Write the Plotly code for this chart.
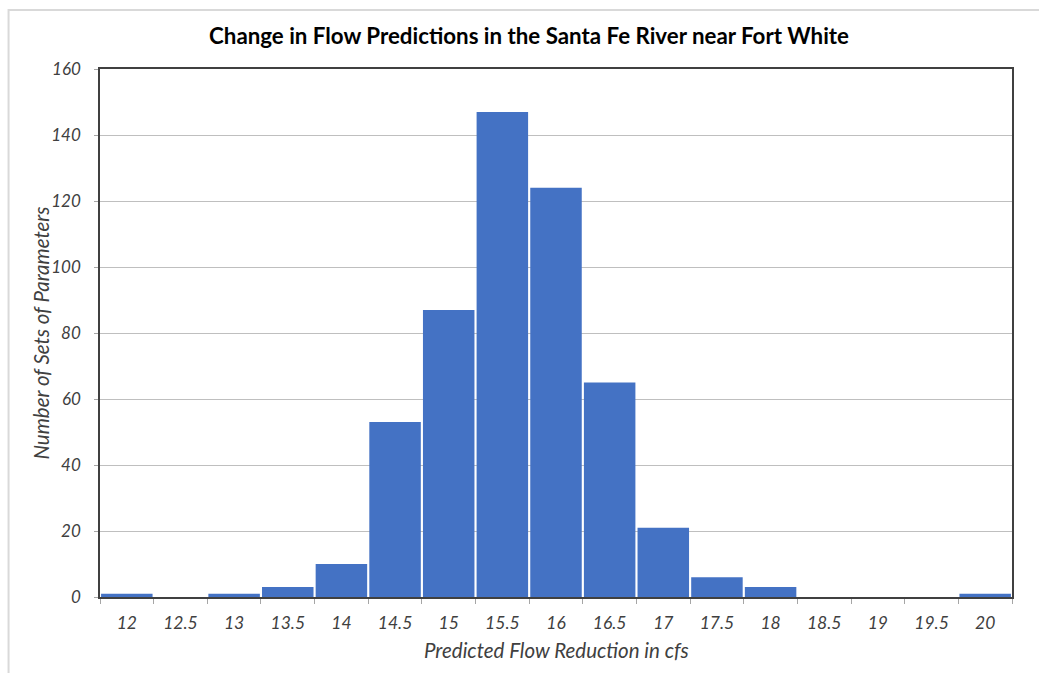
import plotly.graph_objects as go

# Histogram of predicted flow reductions (cfs) and the count of parameter sets in each bin
flow_bins = ["12", "12.5", "13", "13.5", "14", "14.5", "15", "15.5", "16",
             "16.5", "17", "17.5", "18", "18.5", "19", "19.5", "20"]
set_counts = [1, 0, 1, 3, 10, 53, 87, 147, 124, 65, 21, 6, 3, 0, 0, 0, 1]
y_ticks = [0, 20, 40, 60, 80, 100, 120, 140, 160]

W, H = 1039, 673
L, R, T, B = 99.5, 27, 69, 76
pw, ph = W - L - R, H - T - B

fig = go.Figure(
    go.Bar(
        x=flow_bins,
        y=set_counts,
        marker=dict(color="#4472C4", line=dict(width=0)),
        hoverinfo="x+y",
    )
)

font_family = "Lato, Carlito, Calibri, 'Open Sans', sans-serif"
label_color = "#404040"
title_font = dict(size=20.5, style="italic", color=label_color, family=font_family)

fig.update_layout(
    width=W,
    height=H,
    margin=dict(l=L, r=R, t=T, b=B),
    paper_bgcolor="white",
    plot_bgcolor="white",
    bargap=0.04,
    showlegend=False,
    font=dict(family=font_family, color=label_color),
    title=dict(
        text="<b>Change in Flow Predictions in the Santa Fe River near Fort White</b>",
        x=529 / W,
        xanchor="center",
        y=1 - 36 / H,
        yanchor="middle",
        font=dict(size=22.3, color="#000000", family=font_family),
    ),
    xaxis=dict(
        type="category",
        tickson="boundaries",
        ticks="outside",
        ticklen=5,
        tickcolor="#a6a6a6",
        ticklabelstandoff=9,
        tickfont=dict(size=17.5, style="italic", color=label_color),
        showline=True,
        linecolor="#404040",
        linewidth=1.5,
        mirror=True,
        showgrid=False,
    ),
    yaxis=dict(
        range=[0, 160],
        tickvals=y_ticks,
        ticks="outside",
        ticklen=4,
        tickcolor="#a6a6a6",
        ticklabelstandoff=10,
        tickfont=dict(size=17, style="italic", color=label_color),
        showline=True,
        linecolor="#404040",
        linewidth=1.5,
        mirror=True,
        showgrid=True,
        gridcolor="#bfbfbf",
        gridwidth=1,
        zeroline=False,
    ),
    annotations=[
        # axis titles, placed in pixel offsets from the plot area
        dict(
            text="Predicted Flow Reduction in cfs",
            xref="paper", yref="paper",
            x=(556 - L) / pw, y=-(650 - (H - B)) / ph,
            xanchor="center", yanchor="middle",
            showarrow=False, font=title_font,
        ),
        dict(
            text="Number of Sets of Parameters",
            xref="paper", yref="paper",
            x=(40 - L) / pw, y=(H - B - 333) / ph,
            xanchor="center", yanchor="middle", textangle=-90,
            showarrow=False, font=title_font,
        ),
    ],
    shapes=[
        dict(
            type="rect",
            xref="paper",
            yref="paper",
            x0=(8 - L) / pw,
            x1=(W + 20 - L) / pw,
            y0=(H - T - (H + 20)) / ph,
            y1=(H - B - 10) / ph,
            line=dict(color="#d9d9d9", width=2),
            fillcolor="rgba(0,0,0,0)",
            layer="below",
        )
    ],
)

fig.write_html("out.html")
